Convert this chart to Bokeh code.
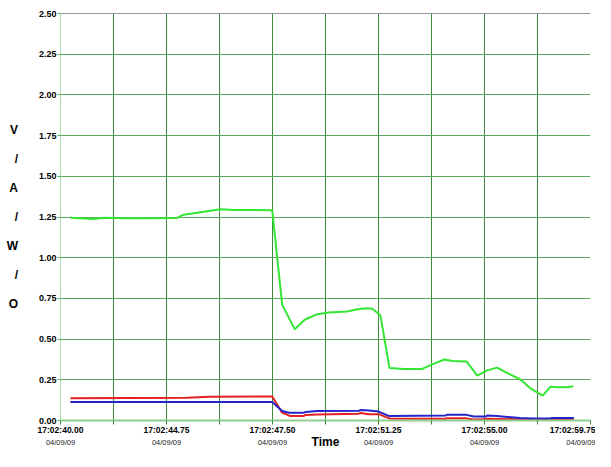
from bokeh.plotting import figure
from bokeh.models import FixedTicker, LinearAxis, Range1d, Span, NumeralTickFormatter
from bokeh.embed import file_html
from bokeh.resources import INLINE

# seconds after 17:02:40.00
green_t = [0.37, 1.24, 1.61, 1.99, 2.49, 2.98, 4.35, 4.59, 5.09, 5.96, 6.46, 7.89,
           8.26, 8.73, 9.10, 9.57, 10.00, 10.68, 11.06, 11.43, 11.62, 11.92, 12.26,
           12.79, 13.48, 13.85, 14.31, 14.60, 15.13, 15.53, 15.90, 16.27, 16.71,
           17.14, 17.51, 17.97, 18.26, 18.51, 18.88, 19.11]
green_v = [1.245, 1.238, 1.246, 1.244, 1.242, 1.242, 1.244, 1.264, 1.276, 1.298, 1.293, 1.292,
           0.712, 0.560, 0.619, 0.653, 0.663, 0.669, 0.683, 0.690, 0.686, 0.647, 0.322,
           0.317, 0.317, 0.345, 0.375, 0.365, 0.363, 0.276, 0.308, 0.325, 0.286,
           0.252, 0.198, 0.153, 0.208, 0.204, 0.204, 0.210]

red_t = [0.37, 4.72, 5.53, 7.89, 8.26, 8.57, 9.07, 9.13, 9.57, 11.12, 11.18, 11.49, 11.86,
         12.30, 14.35, 14.41, 15.09, 15.40, 15.84, 15.90, 17.14, 17.58, 18.26, 18.32, 19.13]
red_v = [0.137, 0.139, 0.146, 0.147, 0.048, 0.027, 0.028, 0.034, 0.037, 0.042, 0.046, 0.039, 0.039,
         0.010, 0.011, 0.014, 0.014, 0.006, 0.007, 0.011, 0.007, 0.005, 0.005, 0.007, 0.007]

blue_t = [0.37, 7.89, 8.26, 8.51, 9.07, 9.13, 9.57, 11.12, 11.18, 11.49, 11.86, 12.23,
          14.35, 14.41, 15.09, 15.40, 15.84, 15.90, 16.27, 16.65, 17.14, 17.58, 18.26, 18.32, 19.13]
blue_v = [0.113, 0.113, 0.058, 0.048, 0.048, 0.052, 0.058, 0.060, 0.064, 0.061, 0.055, 0.028,
          0.030, 0.036, 0.036, 0.024, 0.024, 0.030, 0.028, 0.022, 0.016, 0.012, 0.012, 0.016, 0.016]

x_ticks = [round(1.975 * k, 3) for k in range(11)]
time_labels = ["17:02:40.00", "", "17:02:44.75", "", "17:02:47.50", "", "17:02:51.25", "",
               "17:02:55.00", "", "17:02:59.75"]
date_labels = ["04/09/09", "", "04/09/09", "", "04/09/09", "", "04/09/09", "",
               "04/09/09", "", "04/09/09"]
y_ticks = [0, 0.25, 0.5, 0.75, 1.0, 1.25, 1.5, 1.75, 2.0, 2.25, 2.5]
y_letters = ["V", "/", "A", "/", "W", "/", "O"]

FONT = "Liberation Sans"

p = figure(width=595, height=451, x_range=Range1d(0, 19.75), y_range=Range1d(0, 2.5),
           output_backend="svg", toolbar_location=None,
           min_border_left=60, min_border_right=5, min_border_top=13, min_border_bottom=0)
p.outline_line_color = None
p.background_fill_color = "white"
p.border_fill_color = "white"

# grids
p.xgrid.ticker = FixedTicker(ticks=x_ticks)
p.ygrid.ticker = FixedTicker(ticks=y_ticks)
p.xgrid.grid_line_color = "#3a8a3a"
p.ygrid.grid_line_color = "#5aa85a"

# time axis
xa = p.xaxis[0]
xa.ticker = FixedTicker(ticks=x_ticks)
xa.major_label_overrides = {t: lab for t, lab in zip(x_ticks, time_labels)}
xa.major_label_text_font = FONT
xa.major_label_text_font_style = "bold"
xa.major_label_text_font_size = "8.5px"
xa.major_label_text_color = "black"
xa.major_tick_out = 4
xa.major_tick_in = 0
xa.major_tick_line_color = "#3a8a3a"
xa.minor_tick_line_color = None
xa.axis_line_color = "#8fd08f"
xa.axis_line_width = 2
xa.major_label_standoff = 0
xa.axis_label = None
xa.axis_label_standoff = 0

# date axis
da = LinearAxis(ticker=FixedTicker(ticks=x_ticks),
                major_label_overrides={t: lab for t, lab in zip(x_ticks, date_labels)})
da.major_label_text_font = FONT
da.major_label_text_font_size = "7.5px"
da.major_label_text_color = "#222222"
da.major_tick_line_color = None
da.minor_tick_line_color = None
da.major_tick_out = 0
da.major_tick_in = 0
da.axis_line_color = None
da.major_label_standoff = 0
da.axis_label = "Time"
da.axis_label_standoff = -15
da.axis_label_text_font = FONT
da.axis_label_text_font_style = "bold"
da.axis_label_text_font_size = "12px"
da.axis_label_text_color = "black"
p.add_layout(da, "below")

# y axis
ya = p.yaxis[0]
ya.ticker = FixedTicker(ticks=y_ticks)
ya.formatter = NumeralTickFormatter(format="0.00")
ya.major_label_text_font = FONT
ya.major_label_text_font_style = "bold"
ya.major_label_text_font_size = "9px"
ya.major_label_text_color = "black"
ya.major_tick_out = 3
ya.major_tick_in = 0
ya.major_tick_line_color = "#5aa85a"
ya.minor_tick_line_color = None
ya.axis_line_color = "#a8dca8"
ya.major_label_standoff = 1
ya.axis_label = "\n\n".join(y_letters)
ya.axis_label_orientation = "horizontal"
ya.axis_label_standoff = 18
ya.axis_label_text_font = FONT
ya.axis_label_text_font_style = "bold"
ya.axis_label_text_font_size = "12px"
ya.axis_label_text_line_height = 1.04
ya.axis_label_text_color = "black"

p.add_layout(Span(location=2.5, dimension="width", line_color="#333333", line_width=1))

p.line(green_t, green_v, line_color="#33e633", line_width=2)
p.line(red_t, red_v, line_color="#e42020", line_width=2)
p.line(blue_t, blue_v, line_color="#2424c8", line_width=2)

open("out.html", "w").write(file_html(p, INLINE))
